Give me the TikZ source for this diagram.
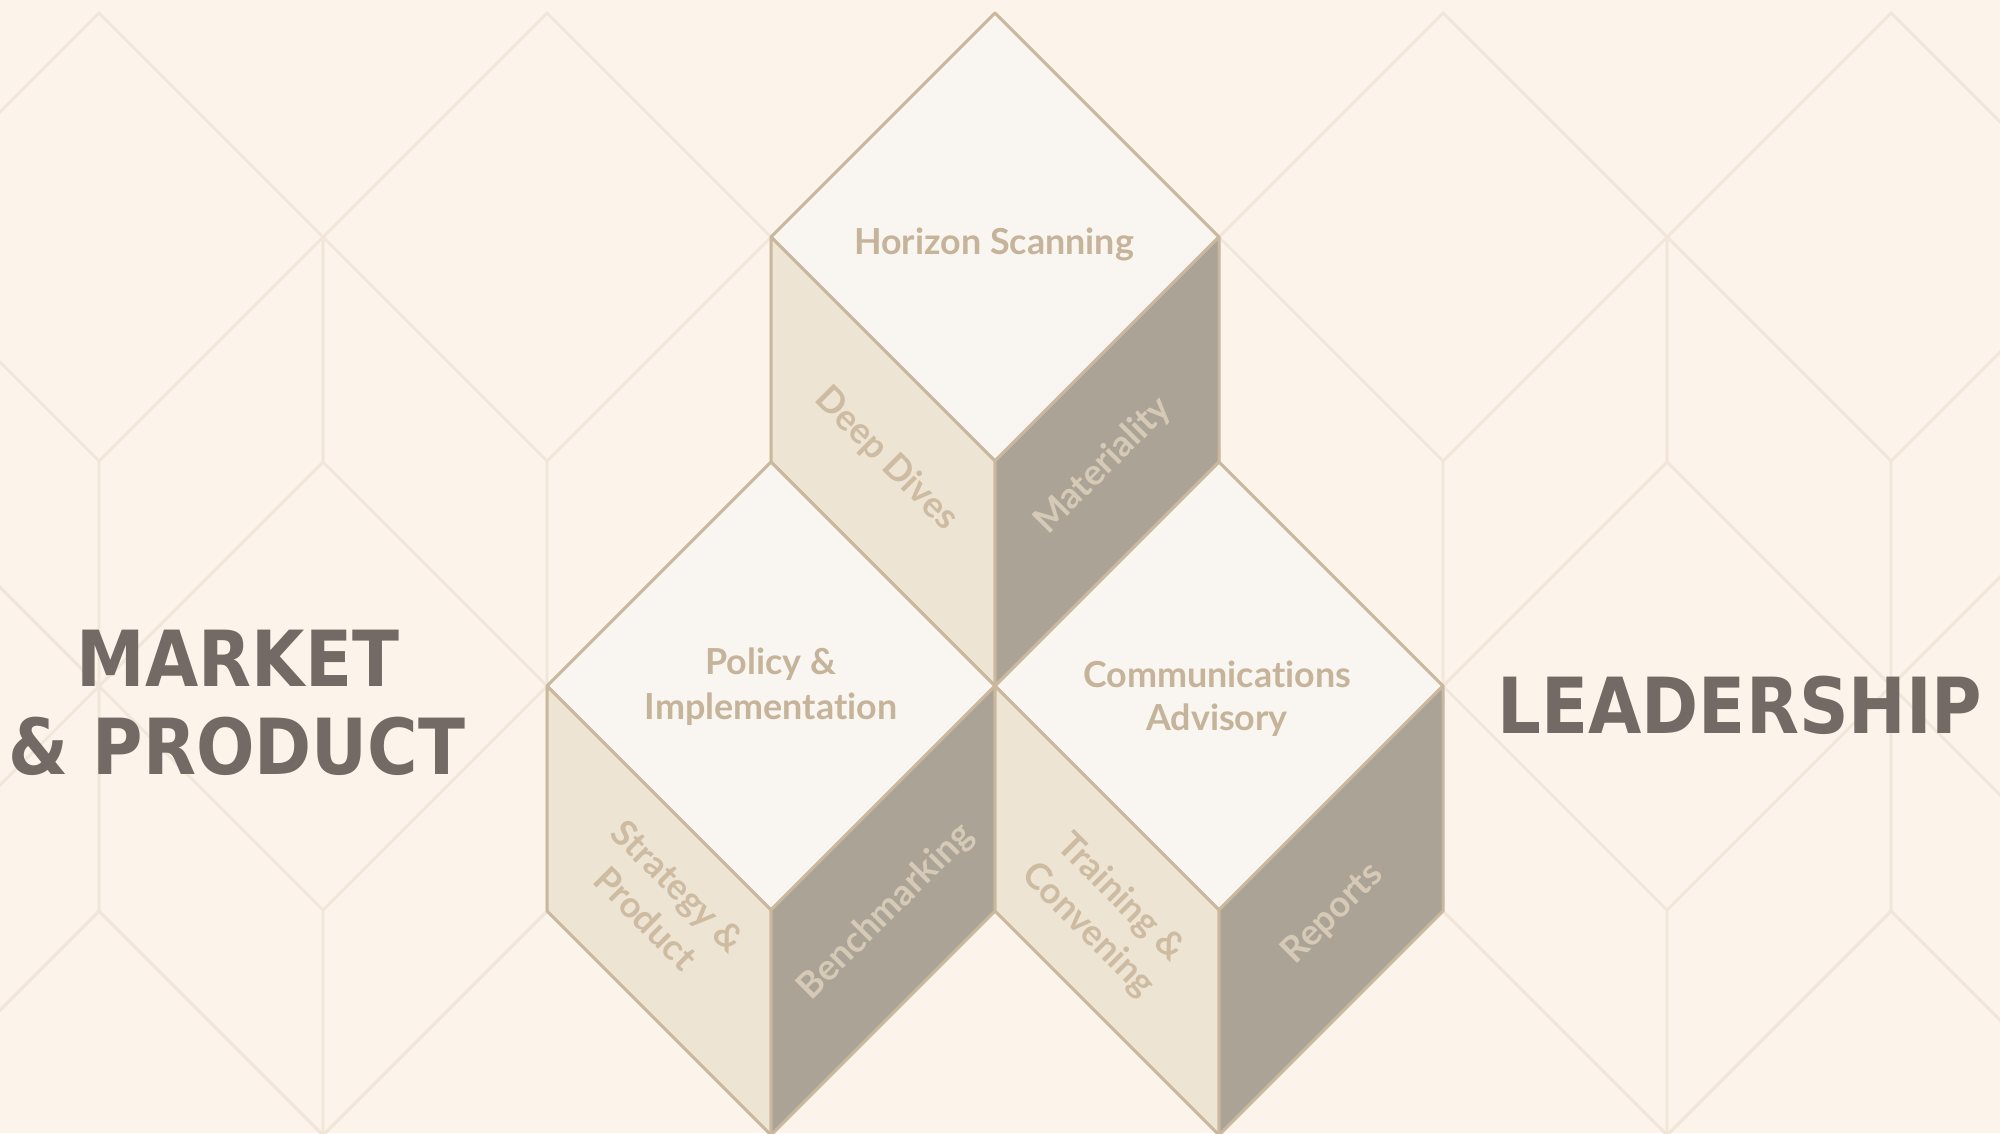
\documentclass[tikz,border=0pt]{standalone}
\usepackage{fontspec}
\setmainfont{Lato}[Ligatures={NoCommon}]
\newfontfamily\titlefont{DejaVu Sans}[FakeStretch=0.89]
\definecolor{bg}{HTML}{FCF4EB}
\definecolor{bgline}{HTML}{F1E6D9}
\definecolor{topfill}{HTML}{F9F5F0}
\definecolor{leftfill}{HTML}{EEE4D4}
\definecolor{rightfill}{HTML}{ABA396}
\definecolor{edge}{HTML}{C9B89E}
\definecolor{toptxt}{HTML}{C5B49A}
\definecolor{lefttxt}{HTML}{CDBCA2}
\definecolor{righttxt}{HTML}{D6CAB6}
\definecolor{titlec}{HTML}{736A65}
\newcommand\drawcube[2]{%
  \filldraw[cubeedge,fill=topfill] (#1,#2-448) -- (#1+224,#2-224) -- (#1,#2) -- (#1-224,#2-224) -- cycle;
  \filldraw[cubeedge,fill=leftfill] (#1-224,#2-224) -- (#1,#2) -- (#1,#2+225) -- (#1-224,#2+1) -- cycle;
  \filldraw[cubeedge,fill=rightfill] (#1+224,#2-224) -- (#1,#2) -- (#1,#2+225) -- (#1+224,#2+1) -- cycle;
}
\begin{document}
\begin{tikzpicture}[x=0.01cm,y=-0.01cm,
  bgl/.style={draw=bgline,line width=0.8pt},
  cubeedge/.style={draw=edge,line width=0.85pt,line join=round},
  toptext/.style={text=toptxt,font=\fontsize{10.2}{12.5}\selectfont\bfseries,inner sep=0pt},
  lefttext/.style={text=lefttxt,font=\fontsize{10.3}{13}\selectfont\bfseries,inner sep=0pt,align=center,rotate=-45},
  righttext/.style={text=righttxt,font=\fontsize{10.3}{13}\selectfont\bfseries,inner sep=0pt,align=center,rotate=45},
  titletext/.style={text=titlec,font=\titlefont\bfseries\fontsize{22}{25}\selectfont,inner sep=0pt}]
\fill[bg] (0,0) rectangle (2000,1133);
\useasboundingbox (0,0) rectangle (2000,1133);
\begin{scope}
\clip (0,0) rectangle (2000,1133);
\foreach \cy/\off in {461/99, 910/-125, 1359/99} {
  \foreach \k in {0,...,5} {
    \pgfmathsetmacro\cx{\off+448*\k}
    \draw[bgl] (\cx,\cy-448) -- (\cx+224,\cy-224) -- (\cx+224,\cy+1) -- (\cx,\cy+225) -- (\cx-224,\cy+1) -- (\cx-224,\cy-224) -- cycle;
    \draw[bgl] (\cx-224,\cy-224) -- (\cx,\cy) -- (\cx+224,\cy-224) (\cx,\cy) -- (\cx,\cy+225);
  }
}
\end{scope}
% foreground cubes
\drawcube{995}{461}
\drawcube{771}{910}
\drawcube{1219}{910}
% top face labels
\node[toptext,anchor=base] (hs) at (994,254) {Horizon Scanning};
\node[toptext,anchor=base] (pol) at (771,674) {Policy \&};
\node[toptext,anchor=base] (imp) at (771,719) {Implementation};
\node[toptext,anchor=base] (com) at (1217,687) {Communications};
\node[toptext,anchor=base] (adv) at (1217,730) {Advisory};
% side labels
\node[lefttext] (dd) at (886,459) {Deep Dives};
\node[righttext] (mat) at (1103,466) {Materiality};
\node[lefttext] (sp) at (662,902) {Strategy \&\\Product};
\node[righttext] (bm) at (886,912) {Benchmarking};
\node[lefttext] (tc) at (1104,914) {Training \&\\Convening};
\node[righttext] (rep) at (1333,914) {Reports};
% titles
\node[titletext,anchor=base] (mk1) at (238,686) {MARKET};
\node[titletext,anchor=base] (mk2) at (237,774) {\& PRODUCT};
\node[titletext,anchor=base] (lead) at (1740,733) {LEADERSHIP};
\end{tikzpicture}
\end{document}
